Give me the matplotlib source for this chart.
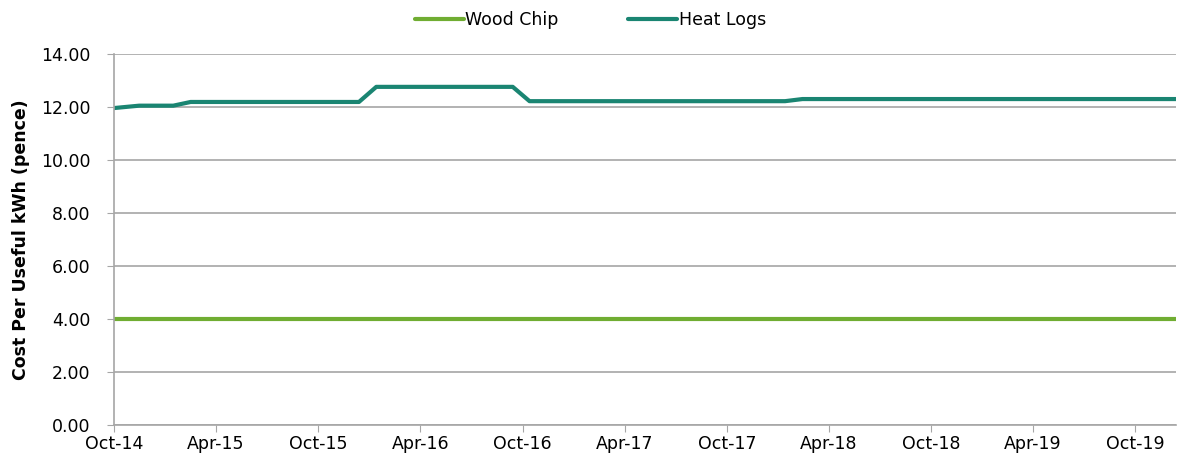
import matplotlib
matplotlib.use('Agg')
import matplotlib.pyplot as plt
import matplotlib.dates as mdates
import pandas as pd

# data
dates = ['2014-10-01', '2014-11-15', '2015-01-15', '2015-02-15', '2015-12-13',
         '2016-01-13', '2016-09-13', '2016-10-13', '2018-01-13', '2018-02-13',
         '2019-12-13']
wood_chip = [4.00, 4.00, 4.00, 4.00, 4.00, 4.00, 4.00, 4.00, 4.00, 4.00, 4.00]
heat_logs = [11.96, 12.05, 12.05, 12.19, 12.19, 12.76, 12.76, 12.22, 12.22, 12.30, 12.30]
y_ticks = [0, 2, 4, 6, 8, 10, 12, 14]

x = pd.to_datetime(dates)

fig = plt.figure(figsize=(11.81, 4.68), dpi=100)
ax = fig.add_axes([114 / 1181, 1 - 425 / 468, (1176 - 114) / 1181, (425 - 54) / 468])

ax.plot(x, wood_chip, color='#70ad32', lw=3.0, label='Wood Chip', solid_capstyle='round')
ax.plot(x, heat_logs, color='#1a8572', lw=3.0, label='Heat Logs', solid_capstyle='round')

ax.set_xlim(x[0], x[-1])
ax.set_ylim(0, 14)
ax.set_yticks(y_ticks)
ax.set_yticklabels(['%.2f' % v for v in y_ticks], fontsize=12.5)
ax.xaxis.set_major_locator(mdates.MonthLocator(bymonth=[4, 10]))
ax.xaxis.set_major_formatter(mdates.DateFormatter('%b-%y'))
for lbl in ax.get_xticklabels():
    lbl.set_fontsize(12.5)

ax.grid(axis='y', color='#a6a6a6', lw=1.2)
ax.set_axisbelow(True)
for side in ['top', 'right']:
    ax.spines[side].set_visible(False)
for side in ['left', 'bottom']:
    ax.spines[side].set_color('#a6a6a6')
    ax.spines[side].set_linewidth(1.2)
ax.tick_params(axis='x', direction='out', length=5, color='#a6a6a6', pad=2)
ax.tick_params(axis='y', direction='out', length=5, color='#a6a6a6', pad=12)

ax.set_ylabel('Cost Per Useful kWh (pence)', fontsize=12.5, fontweight='bold', labelpad=8)

fig.legend(loc='upper center', bbox_to_anchor=(0.5, 1.01), ncol=2, frameon=False,
           fontsize=12.5, handlelength=2.8, handletextpad=0.1, columnspacing=4)

fig.savefig('out.png', dpi=100)
